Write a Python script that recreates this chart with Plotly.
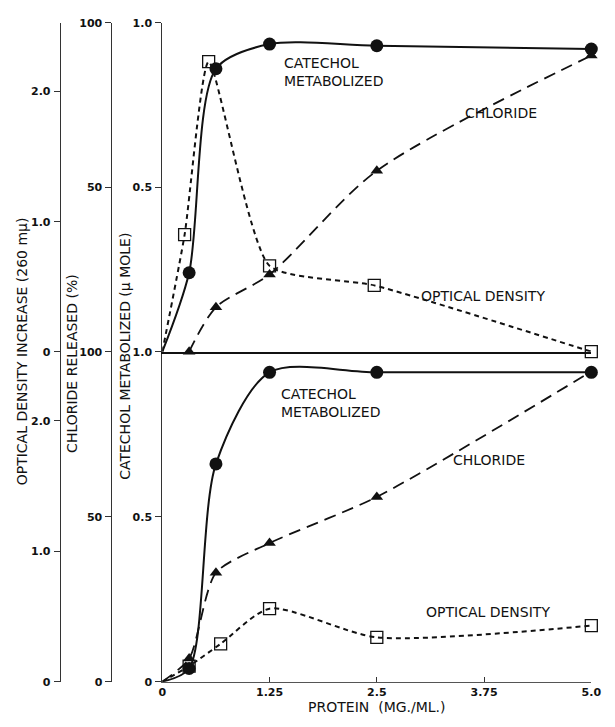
import plotly.graph_objects as go

# Protein concentrations (mg/ml) at which samples were taken
protein = [0.3125, 0.625, 1.25, 2.5, 5.0]

# Upper panel
top_catechol = [0.24, 0.86, 0.935, 0.93, 0.92]        # umole
top_chloride = [0.0, 13.5, 23.5, 55.0, 90.0]          # % released
top_od_protein = [0.26, 0.54, 1.25, 2.47, 5.0]
top_od = [0.90, 2.23, 0.66, 0.51, 0.0]                # OD increase at 260 mu

# Lower panel
bottom_catechol = [0.04, 0.66, 0.9375, 0.9375, 0.9375]
bottom_chloride = [7.0, 33.0, 42.0, 56.0, 94.0]
bottom_od_protein = [0.3125, 0.68, 1.25, 2.5, 5.0]
bottom_od = [0.12, 0.29, 0.56, 0.34, 0.43]

x_ticks = [0, 1.25, 2.5, 3.75, 5.0]
x_ticktext = ["0", "1.25", "2.5", "3.75", "5.0"]

W, H = 615, 727
INK = "#111111"
AXIS = "#333333"
FONT = "DejaVu Sans"

# pixel layout helpers
def px_x(p):
    return p / W

def px_y(p):
    return 1 - p / H

x_dom = [px_x(162), px_x(601)]
top_dom = [px_y(352), px_y(17)]
bot_dom = [px_y(688), px_y(352)]
OD_MAX = 2.53

fig = go.Figure()

def add_series(xs, ys, xaxis, yaxis, dash, width, symbol, size, from_origin, smooth):
    lx = ([0.0] + list(xs)) if from_origin else list(xs)
    ly = ([0.0] + list(ys)) if from_origin else list(ys)
    fig.add_trace(go.Scatter(
        x=lx, y=ly, xaxis=xaxis, yaxis=yaxis, mode="lines",
        line=dict(color=INK, width=width, dash=dash, shape="spline", smoothing=smooth),
        cliponaxis=False, hoverinfo="skip", showlegend=False))
    open_sym = symbol.endswith("open")
    fig.add_trace(go.Scatter(
        x=xs, y=ys, xaxis=xaxis, yaxis=yaxis, mode="markers",
        marker=dict(symbol=symbol, size=size, color=INK,
                    line=dict(color=INK, width=1.3 if open_sym else 0)),
        cliponaxis=False, showlegend=False))

# upper panel: x2 with y4 (catechol), y5 (chloride), y6 (optical density)
add_series(protein, top_catechol, "x2", "y4", "solid", 2.0, "circle", 13, True, 0.8)
add_series(protein, top_chloride, "x2", "y5", "12px,7px", 1.8, "triangle-up", 11, False, 0.8)
add_series(top_od_protein, top_od, "x2", "y6", "5px,4px", 2.0, "square-open", 12, True, 0.55)

# lower panel: x with y (catechol), y2 (chloride), y3 (optical density)
add_series(protein, bottom_catechol, "x", "y", "solid", 2.0, "circle", 13, True, 0.8)
add_series(protein, bottom_chloride, "x", "y2", "12px,7px", 1.8, "triangle-up", 11, True, 0.7)
add_series(bottom_od_protein, bottom_od, "x", "y3", "5px,4px", 2.0, "square-open", 12, True, 0.7)

tickfont = dict(family=FONT, size=11, color=INK, weight="bold")

def yax(domain, rng, vals, text, position=None, overlay=None):
    d = dict(domain=domain, range=rng, tickvals=vals, ticktext=text,
             showline=True, linecolor=AXIS, linewidth=1,
             ticks="outside", ticklen=6, tickcolor=AXIS, tickwidth=1,
             tickfont=tickfont, showgrid=False, zeroline=False,
             side="left", fixedrange=True, ticklabelstandoff=1)
    if position is not None:
        d.update(anchor="free", position=position)
    if overlay is not None:
        d.update(overlaying=overlay)
    return d

layout = dict(
    width=W, height=H, margin=dict(l=0, r=0, t=0, b=0),
    paper_bgcolor="white", plot_bgcolor="rgba(0,0,0,0)",
    font=dict(family=FONT, color=INK),
    xaxis=dict(domain=x_dom, range=[0, 5], anchor="y", tickvals=x_ticks,
               ticktext=x_ticktext, ticks="inside", ticklen=5, tickcolor=AXIS,
               showline=True, linecolor="#555555", linewidth=1, showgrid=False,
               zeroline=False, tickfont=dict(family=FONT, size=11, color=INK, weight="bold"),
               title=dict(text="PROTEIN  (MG./ML.)", standoff=4,
                          font=dict(family=FONT, size=14, color=INK))),
    xaxis2=dict(domain=x_dom, range=[0, 5], anchor="y4", matches="x",
                showticklabels=False, ticks="", showline=True, linecolor=INK,
                linewidth=1.5, showgrid=False, zeroline=False),
    yaxis=yax(bot_dom, [0, 1.0], [0, 0.5, 1.0], ["0", "0.5", "1.0"]),
    yaxis2=yax(bot_dom, [0, 100], [0, 50, 100], ["0", "50", "100"], px_x(110), "y"),
    yaxis3=yax(bot_dom, [0, OD_MAX], [0, 1.0, 2.0], ["0", "1.0", "2.0"], px_x(57), "y"),
    # the upper panel's zero on these two scales coincides with the lower panel's top label
    yaxis4=yax(top_dom, [0, 1.0], [0, 0.5, 1.0], ["", "0.5", "1.0"]),
    yaxis5=yax(top_dom, [0, 100], [0, 50, 100], ["", "50", "100"], px_x(110), "y4"),
    yaxis6=yax(top_dom, [0, OD_MAX], [0, 1.0, 2.0], ["0", "1.0", "2.0"], px_x(57), "y4"),
)
layout["yaxis4"]["anchor"] = "x2"
layout["yaxis"]["anchor"] = "x"
fig.update_layout(**layout)

lab = dict(family=FONT, size=14, color=INK)
notes = [
    ("x2", "y4", 1.39, 0.85, "CATECHOL<br>METABOLIZED"),
    ("x2", "y4", 3.50, 0.725, "CHLORIDE"),
    ("x2", "y4", 2.99, 0.17, "OPTICAL DENSITY"),
    ("x", "y", 1.36, 0.845, "CATECHOL<br>METABOLIZED"),
    ("x", "y", 3.36, 0.673, "CHLORIDE"),
    ("x", "y", 3.05, 0.211, "OPTICAL DENSITY"),
]
for xr, yr, xv, yv, t in notes:
    fig.add_annotation(xref=xr, yref=yr, x=xv, y=yv, text=t, showarrow=False,
                       xanchor="left", yanchor="middle", align="left", font=lab)

# rotated axis titles for the three stacked scales
titles = [
    (18, 352, "OPTICAL DENSITY INCREASE (260 m\u03bc)"),
    (70, 364, "CHLORIDE RELEASED (%)"),
    (123, 357, "CATECHOL METABOLIZED (\u03bc MOLE)"),
]
for xp, yp, t in titles:
    fig.add_annotation(xref="paper", yref="paper", x=px_x(xp), y=px_y(yp), text=t,
                       textangle=-90, showarrow=False, xanchor="center",
                       yanchor="middle", font=dict(family=FONT, size=14, color=INK))

fig.write_html("out.html")
